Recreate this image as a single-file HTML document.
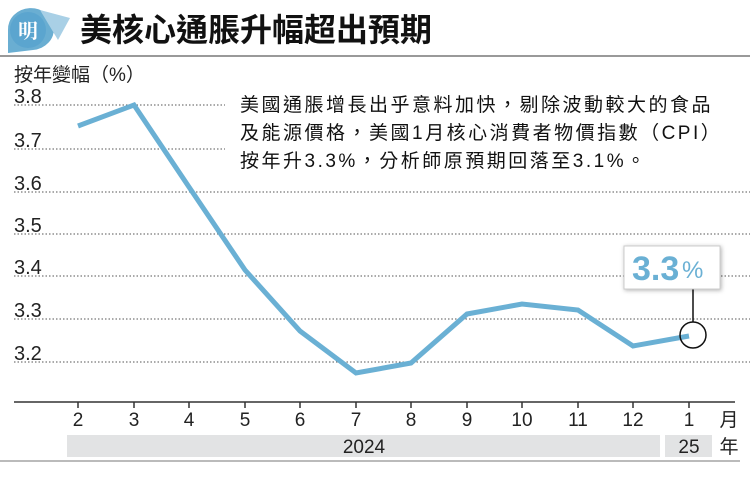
<!DOCTYPE html><html><head><meta charset="utf-8"><style>
body{margin:0;background:#fff;width:750px;height:474px;overflow:hidden;font-family:"Liberation Sans","Noto Sans CJK TC",sans-serif}
</style></head><body>
<svg width="750" height="474" xmlns="http://www.w3.org/2000/svg" font-family="Liberation Sans, Noto Sans CJK TC, sans-serif">
<path d="M8 30 a23 21 0 1 1 25 20 l-25 3 z" fill="#6aaed2"/>
<path d="M40 10 l30 8 l-12 22 z" fill="#a9d0e6"/>
<circle cx="28" cy="30" r="18" fill="#5ba5cf"/>
<text x="28" y="38" font-size="20" fill="#fff" text-anchor="middle" font-family="Noto Serif CJK SC, serif" font-weight="bold">明</text>
<text x="80" y="41" font-size="32" font-weight="bold" fill="#111" font-family="Noto Sans CJK TC, sans-serif">美核心通脹升幅超出預期</text>
<rect x="0" y="55" width="750" height="2" fill="#999"/>
<text x="14" y="81" font-size="19" fill="#222">按年變幅（%）</text>
<g stroke="#555" stroke-width="1" stroke-dasharray="1.5 2">
<line x1="14" y1="105" x2="225" y2="105"/><line x1="14" y1="149" x2="225" y2="149"/>
<line x1="14" y1="192" x2="750" y2="192"/><line x1="14" y1="234" x2="750" y2="234"/>
<line x1="14" y1="276" x2="750" y2="276"/><line x1="14" y1="319" x2="750" y2="319"/>
<line x1="14" y1="362" x2="750" y2="362"/></g>
<g font-size="20" fill="#222">
<text x="14" y="103">3.8</text><text x="14" y="147">3.7</text><text x="14" y="190">3.6</text><text x="14" y="232">3.5</text><text x="14" y="274">3.4</text><text x="14" y="317">3.3</text><text x="14" y="360">3.2</text></g>
<g font-size="19" fill="#111" letter-spacing="2.5" font-family="Liberation Sans, Noto Sans CJK TC, sans-serif">
<text x="240" y="111">美國通脹增長出乎意料加快，剔除波動較大的食品</text>
<text x="240" y="139">及能源價格，美國1月核心消費者物價指數（CPI）</text>
<text x="240" y="167">按年升3.3%，分析師原預期回落至3.1%。</text></g>
<line x1="14" y1="402" x2="735" y2="402" stroke="#333" stroke-width="1.5"/>
<g stroke="#333" stroke-width="1.5">
<line x1="78" y1="402" x2="78" y2="408"/><line x1="134" y1="402" x2="134" y2="408"/><line x1="189" y1="402" x2="189" y2="408"/><line x1="245" y1="402" x2="245" y2="408"/><line x1="300" y1="402" x2="300" y2="408"/><line x1="356" y1="402" x2="356" y2="408"/><line x1="411" y1="402" x2="411" y2="408"/><line x1="467" y1="402" x2="467" y2="408"/><line x1="522" y1="402" x2="522" y2="408"/><line x1="578" y1="402" x2="578" y2="408"/><line x1="633" y1="402" x2="633" y2="408"/><line x1="689" y1="402" x2="689" y2="408"/></g>
<g font-size="19" fill="#222" text-anchor="middle">
<text x="78" y="426">2</text><text x="134" y="426">3</text><text x="189" y="426">4</text><text x="245" y="426">5</text><text x="300" y="426">6</text><text x="356" y="426">7</text><text x="411" y="426">8</text><text x="467" y="426">9</text><text x="522" y="426">10</text><text x="578" y="426">11</text><text x="633" y="426">12</text><text x="689" y="426">1</text><text x="729" y="426">月</text></g>
<rect x="67" y="435" width="593" height="22" fill="#e2e3e4"/>
<rect x="665" y="435" width="47" height="22" fill="#e2e3e4"/>
<g font-size="19" fill="#222" text-anchor="middle"><text x="364" y="453">2024</text><text x="689" y="453">25</text><text x="729" y="453">年</text></g>
<line x1="0" y1="461" x2="740" y2="461" stroke="#777" stroke-width="1"/>
<polyline points="78,126 134,105 189,187 245,270 300,331 356,373 411,363 467,314 522,304 578,310 633,346 689,336" fill="none" stroke="#6ab0d4" stroke-width="5" stroke-linejoin="miter"/>
<circle cx="693" cy="335" r="13" fill="none" stroke="#111" stroke-width="1.5"/>
<line x1="693" y1="322" x2="693" y2="289" stroke="#111" stroke-width="1.5"/>
<rect x="624" y="246" width="96" height="43" fill="#fff" stroke="#ccc" stroke-width="1" style="filter:drop-shadow(1px 1px 2px rgba(0,0,0,.3))"/>
<text x="632" y="280" font-size="34" font-weight="bold" fill="#6ab0d4">3.3</text>
<text x="682" y="278" font-size="24" fill="#6ab0d4">%</text>
</svg></body></html>
